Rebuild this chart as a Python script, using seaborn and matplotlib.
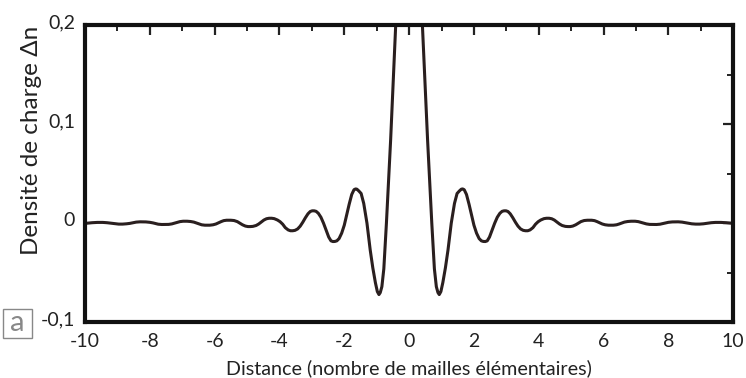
import numpy as np
import pandas as pd
import matplotlib
matplotlib.use("Agg")
import matplotlib.pyplot as plt
from matplotlib.ticker import MultipleLocator, FuncFormatter
from matplotlib.patches import Rectangle
from matplotlib.transforms import ScaledTranslation
import seaborn as sns

# Charge density oscillation around an impurity, right half (x >= 0);
# the profile is symmetric about x = 0.
distance_half = [
    0.00, 0.10, 0.20, 0.30, 0.41, 0.50, 0.57, 0.64, 0.70, 0.78,
    0.84, 0.89, 0.93, 0.98, 1.04, 1.12, 1.20, 1.30, 1.40, 1.48,
    1.55, 1.61, 1.65, 1.70, 1.77, 1.85, 1.92, 2.00, 2.08, 2.16,
    2.23, 2.29, 2.35, 2.41, 2.48, 2.56, 2.64, 2.72, 2.80, 2.87,
    2.93, 2.99, 3.05, 3.12, 3.20, 3.28, 3.36, 3.44, 3.52, 3.59,
    3.66, 3.73, 3.82, 3.90, 3.98, 4.06, 4.16, 4.24, 4.32, 4.40,
    4.48, 4.56, 4.64, 4.72, 4.82, 4.90, 4.97, 5.05, 5.14, 5.22,
    5.30, 5.40, 5.50, 5.63, 5.72, 5.80, 5.88, 5.96, 6.05, 6.15,
    6.30, 6.40, 6.48, 6.56, 6.64, 6.74, 6.85, 6.97, 7.07, 7.16,
    7.24, 7.32, 7.42, 7.52, 7.63, 7.74, 7.82, 7.90, 8.00, 8.12,
    8.30, 8.42, 8.52, 8.62, 8.72, 8.84, 8.96, 9.08, 9.20, 9.32,
    9.45, 9.62, 9.78, 9.90, 10.00,
]
density_half = [
    0.470, 0.450, 0.390, 0.290, 0.200, 0.135, 0.084, 0.038, 0.000, -0.046,
    -0.064, -0.070, -0.072, -0.069, -0.060, -0.045, -0.027, 0.000, 0.020, 0.030,
    0.0325, 0.0343, 0.0346, 0.0338, 0.0290, 0.0190, 0.0090, -0.0020, -0.0100, -0.0155,
    -0.0178, -0.0184, -0.0185, -0.0178, -0.0140, -0.0070, 0.0000, 0.0060, 0.0100, 0.0120,
    0.0125, 0.0125, 0.0118, 0.0095, 0.0055, 0.0010, -0.0030, -0.0058, -0.0072, -0.0076,
    -0.0076, -0.0068, -0.0045, -0.0010, 0.0015, 0.0032, 0.0046, 0.0050, 0.0050, 0.0045,
    0.0032, 0.0012, -0.0008, -0.0023, -0.0032, -0.0034, -0.0034, -0.0029, -0.0016, 0.0000,
    0.0016, 0.0027, 0.0030, 0.0030, 0.0026, 0.0016, 0.0004, -0.0008, -0.0016, -0.0020,
    -0.0020, -0.0016, -0.0008, 0.0002, 0.0011, 0.0017, 0.0020, 0.0020, 0.0016, 0.0008,
    0.0000, -0.0007, -0.0012, -0.0013, -0.0013, -0.0010, -0.0004, 0.0003, 0.0009, 0.0013,
    0.0014, 0.0011, 0.0005, -0.0002, -0.0006, -0.0009, -0.0009, -0.0006, 0.0000, 0.0005,
    0.0008, 0.0008, 0.0005, 0.0001, -0.0002,
]

x_ticks = [-10, -8, -6, -4, -2, 0, 2, 4, 6, 8, 10]
y_ticks = [-0.1, 0.0, 0.1, 0.2]

x_full = [-v for v in distance_half[:0:-1]] + distance_half
y_full = density_half[:0:-1] + density_half
df = pd.DataFrame({"distance": x_full, "densite": y_full})

sns.set_style("white")
plt.rcParams["font.family"] = ["Lato", "DejaVu Sans"]

fig = plt.figure(figsize=(7.46, 3.78), dpi=100)
ax = fig.add_axes([0.1139, 0.1473, 0.8690, 0.7866])

sns.lineplot(data=df, x="distance", y="densite", ax=ax, color="#2a1f1f",
             linewidth=2.2, sort=False)

ax.set_xlim(-10, 10)
ax.set_ylim(-0.1, 0.2)
ax.set_xticks(x_ticks)
ax.set_yticks(y_ticks)
ax.xaxis.set_minor_locator(MultipleLocator(1))
ax.yaxis.set_minor_locator(MultipleLocator(0.05))
ax.yaxis.set_major_formatter(FuncFormatter(
    lambda v, p: "0" if abs(v) < 1e-9 else f"{v:.1f}".replace(".", ",")))
ax.xaxis.set_major_formatter(FuncFormatter(lambda v, p: f"{v:.0f}"))

ax.tick_params(which="major", direction="in", length=7, width=1.6,
               top=True, right=True, color="#222222",
               labelsize=14, labelcolor="#222222")
ax.tick_params(axis="x", which="major", pad=8)
ax.tick_params(axis="y", which="major", pad=7)
ax.tick_params(which="minor", direction="in", length=4, width=1.4,
               top=True, right=True, color="#222222")

# y tick labels sit slightly above their ticks
shift = ScaledTranslation(0, 4 / 100, fig.dpi_scale_trans)
for lbl in ax.get_yticklabels():
    lbl.set_transform(lbl.get_transform() + shift)

for side in ax.spines.values():
    side.set_linewidth(3.0)
    side.set_color("#111111")

ax.set_xlabel("Distance (nombre de mailles élémentaires)", fontsize=14.2,
              color="#222222", labelpad=6)
ax.set_ylabel("Densité de charge Δn", fontsize=17.5, color="#222222")
ax.yaxis.set_label_coords(-0.066, 0.613)

# panel tag
fig.patches.append(Rectangle((3 / 746, 1 - 338 / 378), 29 / 746, 29 / 378,
                             transform=fig.transFigure, fill=False,
                             edgecolor="#888888", linewidth=1.0))
fig.text(17.5 / 746, 1 - 323 / 378, "a", ha="center", va="center",
         fontsize=21, color="#888888")

fig.savefig("out.png", dpi=100)
